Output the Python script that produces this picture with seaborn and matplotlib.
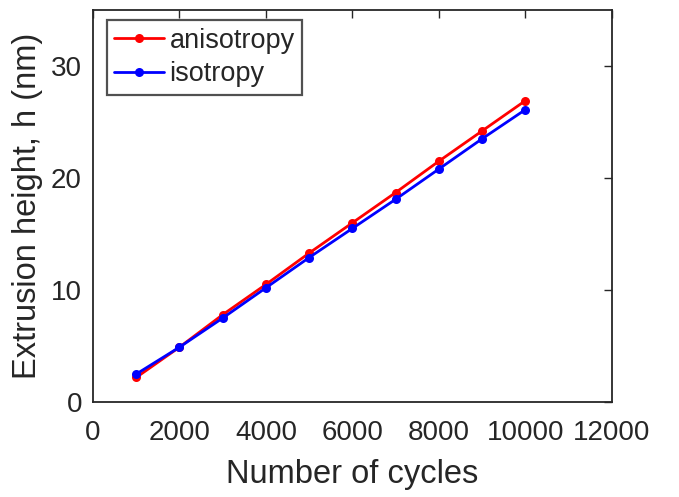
import numpy as np
import pandas as pd
import matplotlib
matplotlib.use('Agg')
import matplotlib.pyplot as plt
import seaborn as sns

cycles = [1000, 2000, 3000, 4000, 5000, 6000, 7000, 8000, 9000, 10000]
h_aniso = [2.2, 4.9, 7.8, 10.5, 13.3, 16.0, 18.7, 21.5, 24.2, 26.9]
h_iso = [2.5, 4.9, 7.5, 10.2, 12.9, 15.5, 18.1, 20.8, 23.5, 26.1]

df = pd.concat([
    pd.DataFrame({'cycles': cycles, 'h': h_aniso, 'case': 'anisotropy'}),
    pd.DataFrame({'cycles': cycles, 'h': h_iso, 'case': 'isotropy'}),
])

sns.set_style('white')
plt.rcParams['font.family'] = ['Liberation Sans', 'DejaVu Sans']

fig = plt.figure(figsize=(6.79, 4.97), dpi=100)
ax = fig.add_axes([0.137, 0.191, 0.764, 0.789])

sns.lineplot(data=df, x='cycles', y='h', hue='case',
             palette={'anisotropy': '#ff0000', 'isotropy': '#0000ff'},
             marker='o', markersize=6.5, markeredgewidth=0, linewidth=2,
             ax=ax)

ax.set_xlim(0, 12000)
ax.set_ylim(0, 35)
ax.set_xticks(np.arange(0, 12001, 2000))
ax.set_yticks([0, 10, 20, 30])
ax.set_xlabel('Number of cycles', fontsize=23.5, color='#262626', labelpad=9)
ax.set_ylabel('Extrusion height, h (nm)', fontsize=23.5, color='#262626', labelpad=6)
ax.tick_params(axis='both', labelsize=20, colors='#262626', direction='in',
               length=6, width=1, top=True, right=True)
ax.tick_params(axis='x', pad=13)
ax.tick_params(axis='y', pad=8)
for s in ax.spines.values():
    s.set_color('#262626')
    s.set_linewidth(1.3)

leg = ax.legend(loc='upper left', fontsize=19.5, frameon=True, fancybox=False,
                edgecolor='#262626', handlelength=1.85, borderpad=0.28,
                labelspacing=0.27, handletextpad=0.2, borderaxespad=0,
                bbox_to_anchor=(0.026, 0.974))
leg.get_frame().set_linewidth(1.6)

fig.savefig('out.png', dpi=100)
